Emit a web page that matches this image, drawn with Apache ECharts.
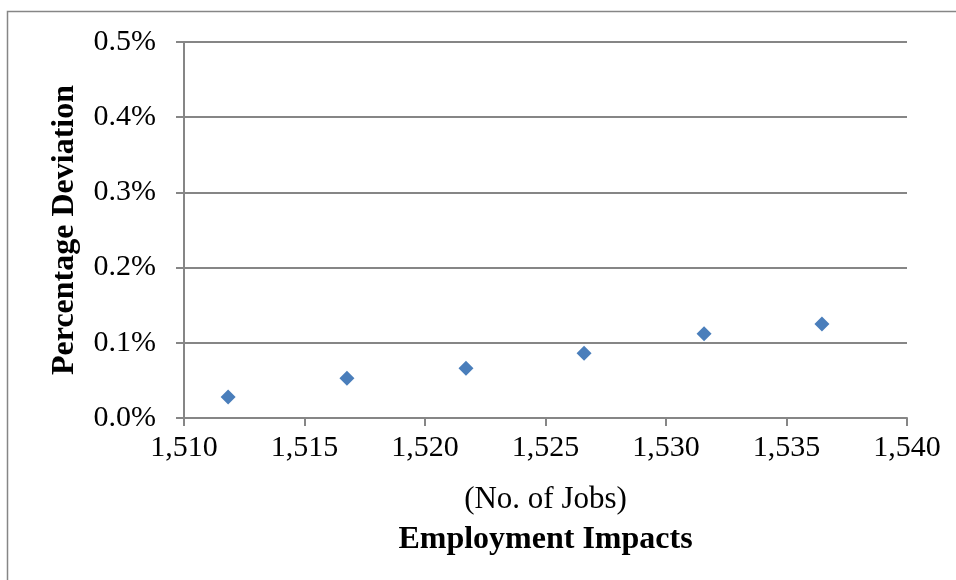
<!DOCTYPE html>
<html>
<head>
<meta charset="utf-8">
<script src="https://cdn.jsdelivr.net/npm/echarts@6/dist/echarts.min.js"></script>
<style>
  html, body { margin: 0; padding: 0; background: #fff; }
  #chart { width: 956px; height: 580px; }
</style>
</head>
<body>
<div id="chart"></div>
<script>
// employment impacts (no. of jobs) vs percentage deviation (%)
const jobs = [1511.83, 1516.76, 1521.70, 1526.60, 1531.58, 1536.47]
const deviation = [0.028, 0.053, 0.066, 0.086, 0.112, 0.125]

const xMin = 1510, xMax = 1540, xStep = 5
const yMin = 0, yMax = 0.5, yStep = 0.1

const font = "'Liberation Serif', 'Times New Roman', serif"
const gray = "#868686"

const chart = echarts.init(document.getElementById("chart"))

const option = {
  animation: false,
  backgroundColor: "#fff",
  textStyle: { fontFamily: font, color: "#000" },
  graphic: [
    {
      type: "rect",
      shape: { x: 7.5, y: 11.5, width: 1000, height: 1000 },
      style: { fill: "none", stroke: gray, lineWidth: 1.5 },
      silent: true,
    },
  ],
  grid: {
    left: 184,
    right: 49,
    top: 42,
    bottom: 162,
  },
  xAxis: {
    type: "value",
    min: xMin,
    max: xMax,
    interval: xStep,
    name: "{a|(No. of Jobs)}\n{b|Employment Impacts}",
    nameLocation: "middle",
    nameGap: 62,
    nameTextStyle: {
      rich: {
        a: { fontFamily: font, fontSize: 31, color: "#000", lineHeight: 40 },
        b: { fontFamily: font, fontSize: 32, fontWeight: "bold", color: "#000", lineHeight: 40 },
      },
    },
    axisLine: { show: true, lineStyle: { color: gray, width: 2 } },
    axisTick: { show: true, length: 8, lineStyle: { color: gray, width: 2 } },
    splitLine: { show: false },
    axisLabel: {
      fontFamily: font,
      fontSize: 30,
      color: "#000",
      margin: 15,
      formatter: (v) => v.toLocaleString("en-US"),
    },
  },
  yAxis: {
    type: "value",
    min: yMin,
    max: yMax,
    interval: yStep,
    name: "Percentage Deviation",
    nameLocation: "middle",
    nameGap: 103,
    nameTextStyle: { fontFamily: font, fontSize: 32, fontWeight: "bold", color: "#000" },
    axisLine: { show: true, lineStyle: { color: gray, width: 2 } },
    axisTick: { show: true, length: 8, lineStyle: { color: gray, width: 2 } },
    splitLine: { show: true, lineStyle: { color: gray, width: 2 } },
    axisLabel: {
      fontFamily: font,
      fontSize: 30,
      color: "#000",
      margin: 28,
      formatter: (v) => v.toFixed(1) + "%",
    },
  },
  series: [
    {
      type: "scatter",
      symbol: "diamond",
      symbolSize: 15,
      itemStyle: { color: "#4A7EBB", opacity: 1 },
      data: jobs.map((x, i) => [x, deviation[i]]),
    },
  ],
}

chart.setOption(option)
window.addEventListener("resize", () => {
  chart.resize()
})
</script>
</body>
</html>
